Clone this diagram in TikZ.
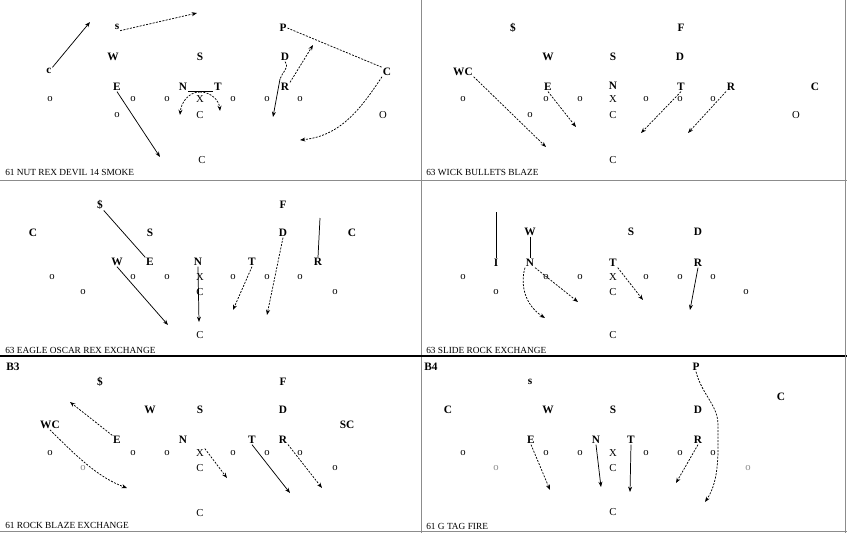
\documentclass[tikz,border=0pt]{standalone}
\usepackage{fontspec}
\setmainfont{Liberation Serif}
\usetikzlibrary{arrows.meta}
\begin{document}
\begin{tikzpicture}[x=0.75pt,y=-0.75pt,
 pl/.style={font=\fontsize{8.5}{9}\selectfont\bfseries, inner sep=0.5pt},
 ol/.style={font=\fontsize{8}{9}\selectfont, inner sep=0.5pt},
 ttl/.style={font=\fontsize{7}{8}\selectfont, anchor=west, inner sep=0pt},
 rt/.style={line width=0.55pt, -{Stealth[length=4pt,width=3pt]}},
 rtd/.style={rt, dash pattern=on 1.5pt off 1pt},
 ln/.style={line width=0.55pt},
 lnd/.style={line width=0.55pt, dash pattern=on 1.5pt off 1pt},
 frame/.style={draw=black!45, line width=0.6pt}]
\useasboundingbox (0,0) rectangle (847,533);
\fill[white] (0,0) rectangle (847,533);
% frames
\draw[frame] (421,0) -- (421,533);
\draw[frame] (0,180) -- (847,180);
\draw[line width=1.6pt] (0,356) -- (847,356);
\draw[frame] (0,531) -- (847,531);
\draw[frame] (845,0) -- (845,533);

% ================= Panel 1 =================
\node[pl] (p1c) at (49,71) {c};
\node[pl] (p1s) at (117,27) {s};
\node[pl] (p1P) at (283,28) {P};
\node[pl] (p1W) at (113,57) {W};
\node[pl] (p1S) at (200,57) {S};
\node[pl] (p1D) at (285,57) {D};
\node[pl] (p1C) at (387,72) {C};
\node[pl] (p1E) at (117,87) {E};
\node[pl] (p1N) at (183,87) {N};
\node[pl] (p1T) at (218,87) {T};
\node[pl] (p1R) at (285,87) {R};
\foreach \x/\n in {50/1,133/2,167/3,233/4,267/5,300/6} \node[ol] (p1o\n) at (\x,99) {o};
\node[ol] (p1X) at (200,99) {X};
\node[ol] (p1q1) at (117,115) {o};
\node[ol] (p1q2) at (200,115) {C};
\node[ol] (p1q3) at (383,115) {O};
\node[ol] (p1B) at (202,160) {C};
\node[ttl] (p1t) at (5,172) {61 NUT REX DEVIL 14 SMOKE};
\coordinate (p1a1) at (90,22);
\coordinate (p1a2) at (197,13);
\coordinate (p1a3) at (160,157);
\coordinate (p1nt) at (200,92);
\coordinate (p1a4) at (180,115);
\coordinate (p1a5) at (220,111);
\coordinate (p1a6) at (280,79);
\coordinate (p1a7) at (273,117);
\coordinate (p1a8) at (313,45);
\coordinate (p1a9) at (300,140);
\draw[rt] (p1c.north east) -- (p1a1);
\draw[rtd] (p1s.south east) -- (p1a2);
\draw[lnd] (p1P.east) -- (p1C.north west);
\draw[rt] (p1E.south) -- (p1a3);
\draw[ln] (p1N.south east) -- (p1T.south west);
\draw[rtd] (p1nt) to[out=180,in=85] (p1a4);
\draw[rtd] (p1nt) to[out=0,in=95] (p1a5);
\draw[lnd] (p1D.south) .. controls (290,68) and (282,72) .. (p1a6);
\draw[rt] (p1a6) -- (p1a7);
\draw[rtd] (p1R.north east) -- (p1a8);
\draw[rtd] (p1C.south west) .. controls (360,110) and (340,136) .. (p1a9);

% ================= Panel 2 =================
\node[pl] (p2s) at (513,28) {\$};
\node[pl] (p2F) at (681,28) {F};
\node[pl] (p2W) at (548,57) {W};
\node[pl] (p2S) at (613,57) {S};
\node[pl] (p2D) at (680,57) {D};
\node[pl] (p2WC) at (463,72) {WC};
\node[pl] (p2E) at (548,87) {E};
\node[pl] (p2N) at (613,86) {N};
\node[pl] (p2T) at (681,87) {T};
\node[pl] (p2R) at (731,87) {R};
\node[pl] (p2C) at (815,87) {C};
\foreach \x/\n in {463/1,546/2,580/3,646/4,680/5,713/6} \node[ol] (p2o\n) at (\x,99) {o};
\node[ol] (p2X) at (613,99) {X};
\node[ol] (p2q1) at (530,115) {o};
\node[ol] (p2q2) at (613,115) {C};
\node[ol] (p2q3) at (796,115) {O};
\node[ol] (p2B) at (613,160) {C};
\node[ttl] (p2t) at (426,172) {63 WICK BULLETS BLAZE};
\coordinate (p2a1) at (546,147);
\coordinate (p2a2) at (576,127);
\coordinate (p2a3) at (641,133);
\coordinate (p2a4) at (688,133);
\draw[rtd] (p2WC.south east) -- (p2a1);
\draw[rtd] (p2E.south) -- (p2a2);
\draw[rtd] (p2T.south) -- (p2a3);
\draw[rtd] (p2R.south west) -- (p2a4);

% ================= Panel 3 =================
\node[pl] (p3s) at (100,205) {\$};
\node[pl] (p3F) at (283,205) {F};
\node[pl] (p3C1) at (33,233) {C};
\node[pl] (p3S) at (150,233) {S};
\node[pl] (p3D) at (283,233) {D};
\node[pl] (p3C2) at (352,233) {C};
\node[pl] (p3W) at (117,262) {W};
\node[pl] (p3E) at (150,262) {E};
\node[pl] (p3N) at (198,262) {N};
\node[pl] (p3T) at (252,262) {T};
\node[pl] (p3R) at (318,262) {R};
\foreach \x/\n in {52/1,133/2,167/3,233/4,267/5,300/6} \node[ol] (p3o\n) at (\x,277) {o};
\node[ol] (p3X) at (200,277) {X};
\node[ol] (p3q1) at (83,292) {o};
\node[ol] (p3q2) at (200,292) {C};
\node[ol] (p3q3) at (335,292) {o};
\node[ol] (p3B) at (200,335) {C};
\node[ttl] (p3t) at (5,350) {63 EAGLE OSCAR REX EXCHANGE};
\coordinate (p3a1) at (168,325);
\coordinate (p3a2) at (199,322);
\coordinate (p3a3) at (233,310);
\coordinate (p3a4) at (267,315);
\coordinate (p3a5) at (320,218);
\draw[ln] (p3s.south east) -- (p3E.north west);
\draw[rt] (p3W.south) -- (p3a1);
\draw[rt] (p3N.south) -- (p3a2);
\draw[rtd] (p3T.south) -- (p3a3);
\draw[rtd] (p3D.south) -- (p3a4);
\draw[ln] (p3a5) -- (p3R.north);

% ================= Panel 4 =================
\node[pl] (p4W) at (530,232) {W};
\node[pl] (p4S) at (631,232) {S};
\node[pl] (p4D) at (698,232) {D};
\node[pl] (p4I) at (496,263) {I};
\node[pl] (p4N) at (530,263) {N};
\node[pl] (p4T) at (613,263) {T};
\node[pl] (p4R) at (698,263) {R};
\foreach \x/\n in {463/1,546/2,580/3,646/4,680/5,713/6} \node[ol] (p4o\n) at (\x,277) {o};
\node[ol] (p4X) at (613,277) {X};
\node[ol] (p4q1) at (496,292) {o};
\node[ol] (p4q2) at (613,292) {C};
\node[ol] (p4q3) at (746,292) {o};
\node[ol] (p4B) at (613,335) {C};
\node[ttl] (p4t) at (426,350) {63 SLIDE ROCK EXCHANGE};
\coordinate (p4a1) at (496,212);
\coordinate (p4a2) at (545,318);
\coordinate (p4a3) at (578,302);
\coordinate (p4a4) at (643,300);
\coordinate (p4a5) at (690,310);
\draw[ln] (p4a1) -- (p4I.north);
\draw[ln] (p4W.south) -- (p4N.north);
\draw[rtd] (p4N.south west) .. controls (520,285) and (525,305) .. (p4a2);
\draw[rtd] (p4N.south east) -- (p4a3);
\draw[rtd] (p4T.south east) -- (p4a4);
\draw[rt] (p4R.south) -- (p4a5);

% ================= Panel 5 =================
\node[pl] (p5lab) at (13,367) {B3};
\node[pl] (p5s) at (100,382) {\$};
\node[pl] (p5F) at (283,382) {F};
\node[pl] (p5W) at (150,410) {W};
\node[pl] (p5S) at (200,410) {S};
\node[pl] (p5D) at (283,410) {D};
\node[pl] (p5WC) at (50,425) {WC};
\node[pl] (p5SC) at (347,425) {SC};
\node[pl] (p5E) at (117,440) {E};
\node[pl] (p5N) at (183,440) {N};
\node[pl] (p5T) at (252,440) {T};
\node[pl] (p5R) at (283,440) {R};
\foreach \x/\n in {50/1,133/2,167/3,233/4,267/5,300/6} \node[ol] (p5o\n) at (\x,453) {o};
\node[ol] (p5X) at (200,453) {X};
\node[ol, text=black!45] (p5q1) at (83,468) {o};
\node[ol] (p5q2) at (200,468) {C};
\node[ol] (p5q3) at (335,468) {o};
\node[ol] (p5B) at (200,513) {C};
\node[ttl] (p5t) at (5,525) {61 ROCK BLAZE EXCHANGE};
\coordinate (p5a1) at (70,402);
\coordinate (p5a2) at (127,488);
\coordinate (p5a3) at (227,478);
\coordinate (p5a4) at (290,493);
\coordinate (p5a5) at (322,488);
\draw[rtd] (p5E.north west) -- (p5a1);
\draw[rtd] (p5WC.south) .. controls (80,460) and (100,478) .. (p5a2);
\draw[rtd] (p5X.north east) -- (p5a3);
\draw[rt] (p5T.south) -- (p5a4);
\draw[rtd] (p5R.south east) -- (p5a5);

% ================= Panel 6 =================
\node[pl] (p6lab) at (431,367) {B4};
\node[pl] (p6s) at (530,382) {s};
\node[pl] (p6P) at (696,367) {P};
\node[pl] (p6C2) at (781,397) {C};
\node[pl] (p6C1) at (448,410) {C};
\node[pl] (p6W) at (548,410) {W};
\node[pl] (p6S) at (613,410) {S};
\node[pl] (p6D) at (698,410) {D};
\node[pl] (p6E) at (531,440) {E};
\node[pl] (p6N) at (596,440) {N};
\node[pl] (p6T) at (631,440) {T};
\node[pl] (p6R) at (698,440) {R};
\foreach \x/\n in {463/1,546/2,580/3,646/4,680/5,713/6} \node[ol] (p6o\n) at (\x,453) {o};
\node[ol] (p6X) at (613,453) {X};
\node[ol, text=black!45] (p6q1) at (496,468) {o};
\node[ol] (p6q2) at (613,468) {C};
\node[ol, text=black!45] (p6q3) at (748,468) {o};
\node[ol] (p6B) at (613,512) {C};
\node[ttl] (p6t) at (426,526) {61 G TAG FIRE};
\coordinate (p6a1) at (550,490);
\coordinate (p6a2) at (601,487);
\coordinate (p6a3) at (630,492);
\coordinate (p6a4) at (676,483);
\coordinate (p6a5) at (705,502);
\draw[rtd] (p6E.south) -- (p6a1);
\draw[rt] (p6N.south) -- (p6a2);
\draw[rt] (p6T.south) -- (p6a3);
\draw[rtd] (p6R.south) -- (p6a4);
\draw[rtd] (p6P.south) .. controls (702,395) and (718,405) .. (718,425) .. controls (718,450) and (720,480) .. (p6a5);
\end{tikzpicture}
\end{document}
